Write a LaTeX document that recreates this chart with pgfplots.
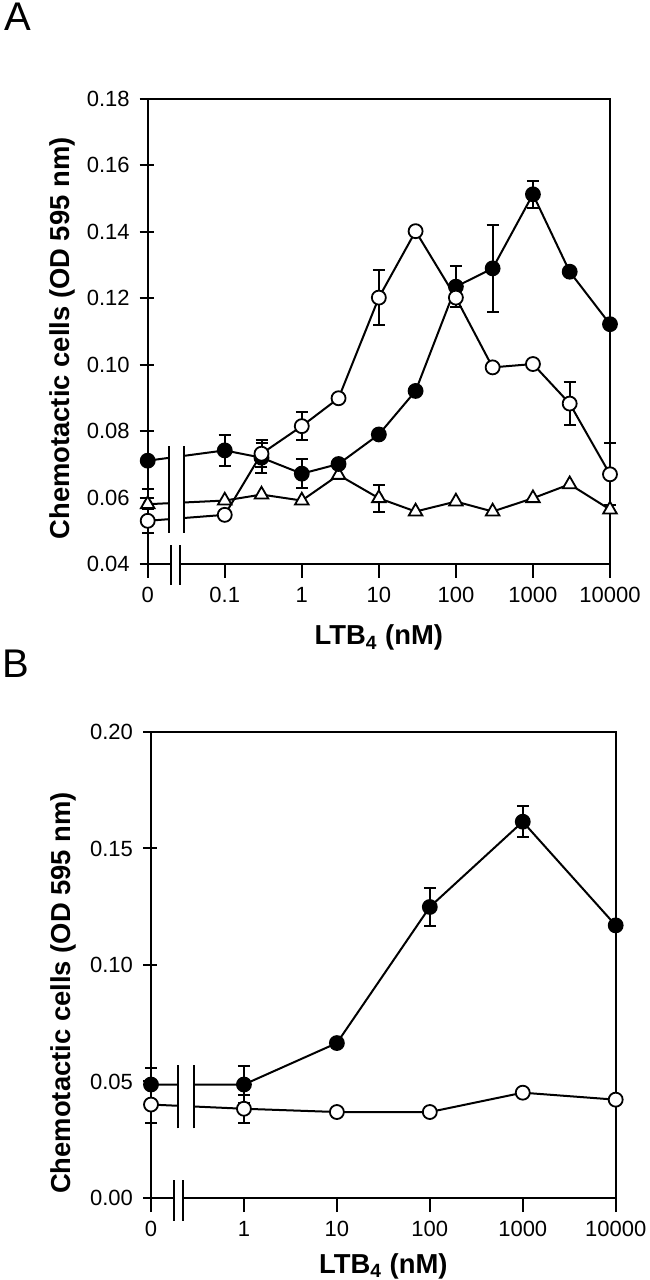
\documentclass[border=0pt]{standalone}
\usepackage{fontspec}
\setmainfont{Liberation Sans}
\usepackage{pgfplots}
\pgfplotsset{compat=1.18}
\pgfplotsset{
  base/.style={
    scale only axis,
    axis line style={line width=1pt},
    tick align=outside,
    major tick length=7pt,
    tick style={line width=1pt, black},
    xtick pos=bottom, ytick pos=left,
    ytick style={xshift=3pt},
    ticklabel style={font=\fontsize{11}{13}\selectfont},
    xticklabel style={inner sep=0pt, yshift=-4.5pt},
    yticklabel style={inner sep=0pt, xshift=-1.85pt},
    label style={font=\bfseries\fontsize{13.7}{16}\selectfont},
    clip=false,
  },
  errs/.style={black, line width=1pt, only marks, mark=none,
    error bars/.cd, y dir=both, y explicit,
    error mark options={rotate=90, mark size=3pt, line width=1pt, black},
    error bar style={line width=1pt, black}},
  filled/.style={black, line width=1pt, mark=*, mark size=3.5pt,
    mark options={fill=black, draw=black, solid, line width=0.9pt}},
  open/.style={black, line width=1pt, mark=*, mark size=3.5pt,
    mark options={fill=white, draw=black, solid, line width=0.9pt}},
  tri/.style={black, line width=1pt, mark=triangle*, mark size=3.9pt,
    mark options={fill=white, draw=black, solid, line width=0.9pt}},
}
\begin{document}
\begin{tikzpicture}
\path[use as bounding box] (0,0) rectangle (324.5pt,640pt);
\node[anchor=north west, inner sep=0pt, font=\fontsize{20}{24}\selectfont] at (2pt,638.5pt) {A};
\node[anchor=north west, inner sep=0pt, font=\fontsize{20}{24}\selectfont] at (1pt,315pt) {B};

% ---------------- Panel A ----------------
\begin{axis}[base, at={(73.85pt,358pt)}, anchor=south west,
  width=231.15pt, height=232.5pt,
  xmin=0, xmax=6, ymin=0.04, ymax=0.18,
  xtick={0,1,2,3,4,5,6}, xticklabels={0,0.1,1,10,100,1000,10000},
  ytick={0.04,0.06,0.08,0.10,0.12,0.14,0.16,0.18},
  yticklabels={0.04,0.06,0.08,0.10,0.12,0.14,0.16,0.18},
  xlabel={LTB\textsubscript{4} (nM)},
  ylabel={Chemotactic cells (OD 595 nm)},
  xlabel style={at={(axis description cs:0.5,-0.174)}, anchor=base},
  ylabel style={at={(axis description cs:-0.185,0.485)}, anchor=center},
]
% error bars (u = log10(conc)+2, 0 nM at u=0)
\addplot[errs] table[x=u, y=v, y error=e] {
u v e
1 0.0742 0.0047
1.477 0.0720 0.0045
2 0.0672 0.0043
4 0.1235 0.0062
4.477 0.1290 0.0130
5 0.1513 0.0040
};
\addplot[errs] table[x=u, y=v, y error=e] {
u v e
0 0.0530 0.0036
1.477 0.0732 0.0040
2 0.0815 0.0042
3 0.1202 0.0082
5.477 0.0883 0.0064
6 0.0670 0.0093
};
\addplot[errs] table[x=u, y=v, y error=e] {
u v e
0 0.0580 0.0045
3 0.0598 0.0041
};
% triangles
\addplot[tri] table[x=u, y=v] {
u v
0 0.0580
1 0.0591
1.477 0.0609
2 0.0591
2.477 0.0668
3 0.0598
3.477 0.0558
4 0.0588
4.477 0.0558
5 0.0598
5.477 0.0640
6 0.0564
};
% filled circles
\addplot[filled] table[x=u, y=v] {
u v
0 0.0711
1 0.0742
1.477 0.0720
2 0.0672
2.477 0.0701
3 0.0790
3.477 0.0921
4 0.1235
4.477 0.1290
5 0.1513
5.477 0.1280
6 0.1122
};
% open circles
\addplot[open] table[x=u, y=v] {
u v
0 0.0530
1 0.0548
1.477 0.0732
2 0.0815
2.477 0.0899
3 0.1202
3.477 0.1402
4 0.1202
4.477 0.0992
5 0.1002
5.477 0.0883
6 0.0670
};
\coordinate (Ag1) at (axis cs:0.272,0.0490);
\coordinate (Ag2) at (axis cs:0.472,0.0758);
\coordinate (Ax1) at (axis cs:0.30,0.0395);
\coordinate (Ax2) at (axis cs:0.42,0.0405);
\coordinate (Ab1a) at (axis cs:0.272,0.0494);
\coordinate (Ab1b) at (axis cs:0.272,0.0754);
\coordinate (Ab2a) at (axis cs:0.472,0.0494);
\coordinate (Ab2b) at (axis cs:0.472,0.0754);
\coordinate (As1a) at (axis cs:0.30,0.0337);
\coordinate (As1b) at (axis cs:0.30,0.0457);
\coordinate (As2a) at (axis cs:0.42,0.0337);
\coordinate (As2b) at (axis cs:0.42,0.0457);
\end{axis}
\fill[white] (Ag1) rectangle (Ag2);
\fill[white] (Ax1) rectangle (Ax2);
\draw[line width=1pt] (Ab1a) -- (Ab1b) (Ab2a) -- (Ab2b);
\draw[line width=1pt] (As1a) -- (As1b) (As2a) -- (As2b);

% ---------------- Panel B ----------------
\begin{axis}[base, at={(75.5pt,41pt)}, anchor=south west,
  width=232.35pt, height=233pt,
  xmin=0, xmax=5, ymin=0, ymax=0.20,
  xtick={0,1,2,3,4,5}, xticklabels={0,1,10,100,1000,10000},
  ytick={0,0.05,0.10,0.15,0.20},
  yticklabels={0.00,0.05,0.10,0.15,0.20},
  xlabel={LTB\textsubscript{4} (nM)},
  ylabel={Chemotactic cells (OD 595 nm)},
  xlabel style={at={(axis description cs:0.5,-0.161)}, anchor=base},
  ylabel style={at={(axis description cs:-0.188,0.44)}, anchor=center},
]
% u = log10(conc)+1, 0 nM at u=0
\addplot[errs] table[x=u, y=v, y error=e] {
u v e
0 0.0487 0.0072
1 0.0487 0.0080
3 0.1249 0.0080
4 0.1615 0.0066
};
\addplot[errs] table[x=u, y=v, y error=e] {
u v e
0 0.0401 0.0080
1 0.0383 0.0060
};
\addplot[filled] table[x=u, y=v] {
u v
0 0.0487
1 0.0487
2 0.0665
3 0.1249
4 0.1615
5 0.1170
};
\addplot[open] table[x=u, y=v] {
u v
0 0.0401
1 0.0383
2 0.0369
3 0.0369
4 0.0452
5 0.0422
};
\coordinate (Bg1) at (axis cs:0.294,0.0295);
\coordinate (Bg2) at (axis cs:0.459,0.0576);
\coordinate (Bx1) at (axis cs:0.25,-0.0008);
\coordinate (Bx2) at (axis cs:0.347,0.0008);
\coordinate (Bb1a) at (axis cs:0.294,0.0299);
\coordinate (Bb1b) at (axis cs:0.294,0.0572);
\coordinate (Bb2a) at (axis cs:0.459,0.0299);
\coordinate (Bb2b) at (axis cs:0.459,0.0572);
\coordinate (Bs1a) at (axis cs:0.25,-0.0097);
\coordinate (Bs1b) at (axis cs:0.25,0.0079);
\coordinate (Bs2a) at (axis cs:0.347,-0.0097);
\coordinate (Bs2b) at (axis cs:0.347,0.0079);
\end{axis}
\fill[white] (Bg1) rectangle (Bg2);
\fill[white] (Bx1) rectangle (Bx2);
\draw[line width=1pt] (Bb1a) -- (Bb1b) (Bb2a) -- (Bb2b);
\draw[line width=1pt] (Bs1a) -- (Bs1b) (Bs2a) -- (Bs2b);
\end{tikzpicture}
\end{document}
